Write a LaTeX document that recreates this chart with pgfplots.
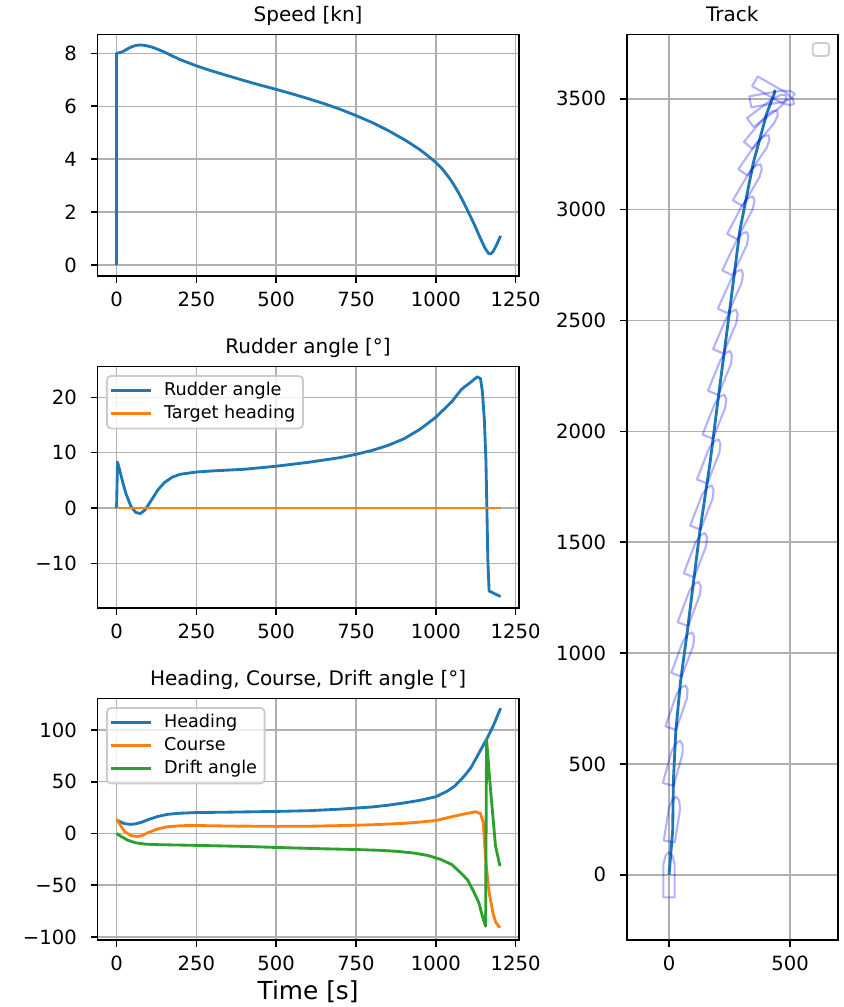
\documentclass[border=0pt]{standalone}
\usepackage{fontspec}
\setmainfont{DejaVu Sans}
\usepackage{pgfplots}
\pgfplotsset{compat=1.18}
\usepackage{pgfplotstable}

\definecolor{tabblue}{HTML}{1F77B4}
\definecolor{taborange}{HTML}{FF7F0E}
\definecolor{tabgreen}{HTML}{2CA02C}
\definecolor{gridgray}{HTML}{B0B0B0}
\definecolor{legframe}{HTML}{CCCCCC}

% ship outline, bow along +y, turned by the heading of each point
\pgfdeclareplotmark{ship}{%
  \pgftransformrotate{-\hdg}%
  \pgfpathmoveto{\pgfqpoint{-2.8pt}{-11.3pt}}%
  \pgfpathlineto{\pgfqpoint{2.8pt}{-11.3pt}}%
  \pgfpathlineto{\pgfqpoint{2.8pt}{5.4pt}}%
  \pgfpathlineto{\pgfqpoint{1.7pt}{9.6pt}}%
  \pgfpathlineto{\pgfqpoint{0pt}{11.3pt}}%
  \pgfpathlineto{\pgfqpoint{-1.7pt}{9.6pt}}%
  \pgfpathlineto{\pgfqpoint{-2.8pt}{5.4pt}}%
  \pgfpathclose
  \pgfusepathqstroke}

\pgfplotsset{
  mpl/.style={
    scale only axis, anchor=south west,
    width=210.7pt, height=120.75pt,
    grid=major, major grid style={gridgray, line width=0.76pt},
    axis line style={line width=0.8pt},
    tick pos=left, tick align=outside, major tick length=3.3pt,
    tick style={black, line width=0.8pt},
    tick label style={font=\fontsize{9.8}{11}\selectfont},
    xticklabel style={inner sep=0pt, anchor=north, yshift=-4.3pt},
    yticklabel style={inner sep=0pt, anchor=east, xshift=-6.8pt},
    every axis title/.style={font=\fontsize{10}{12}\selectfont,
      at={(0.5,1)}, anchor=base, yshift=6.6pt},
    legend cell align=left,
    legend image code/.code={\draw[##1, line width=1.42pt] (0pt,0pt) -- (20pt,0pt);},
    legend style={at={(0,1)}, anchor=north west, xshift=4.3pt, yshift=-4.3pt,
      draw=legframe, line width=0.9pt, rounded corners=2pt,
      fill=white, fill opacity=0.8, text opacity=1,
      font=\fontsize{8.8}{10}\selectfont,
      inner xsep=1.4pt, inner ysep=1.6pt,
      nodes={inner xsep=2.4pt, inner ysep=1.25pt, text height=6.8pt, text depth=2.2pt},
      /tikz/every odd column/.append style={column sep=3.4pt}},
    every axis plot/.append style={line width=1.42pt, line join=round},
  },
}

\begin{document}
\begin{tikzpicture}
\path[use as bounding box] (0,0) rectangle (421.5pt,503.5pt);

% Speed
\begin{axis}[mpl, at={(48.7pt,365.5pt)},
  xmin=-60, xmax=1260, ymin=-0.415, ymax=8.715,
  xtick={0,250,500,750,1000,1250}, xticklabels={0,250,500,750,1000,1250},
  ytick={0,2,4,6,8}, yticklabels={0,2,4,6,8},
  title={Speed [kn]}]
\addplot[tabblue] coordinates {
 (0,0) (0,8.0) (10,8.03) (20,8.07) (30,8.14) (45,8.24) (60,8.3) (75,8.32)
 (90,8.3) (110,8.24) (130,8.15) (150,8.05) (175,7.9) (200,7.76) (250,7.53)
 (300,7.33) (350,7.15) (400,6.97) (450,6.8) (500,6.64) (550,6.47) (600,6.29)
 (650,6.1) (700,5.89) (750,5.65) (800,5.39) (850,5.09) (900,4.75) (925,4.56)
 (950,4.36) (975,4.13) (1000,3.88) (1020,3.64) (1040,3.33) (1055,3.06)
 (1070,2.76) (1085,2.42) (1100,2.05) (1120,1.55) (1140,1.0)
 (1155,0.62) (1165,0.44) (1172,0.42) (1180,0.52) (1190,0.75) (1203,1.1)
};
\end{axis}

% Rudder angle
\begin{axis}[mpl, at={(48.7pt,199.5pt)},
  xmin=-60, xmax=1260, ymin=-18.07, ymax=25.57,
  xtick={0,250,500,750,1000,1250}, xticklabels={0,250,500,750,1000,1250},
  ytick={-10,0,10,20}, yticklabels={−10,0,10,20},
  title={Rudder angle [°]}]
\addplot[tabblue] coordinates {
 (0,0) (3,8.3) (10,6.8) (20,4.5) (30,2.5) (45,0.3) (60,-0.8) (75,-1.0)
 (90,-0.3) (110,1.5) (130,3.3) (150,4.6) (175,5.6) (200,6.1) (250,6.5)
 (300,6.7) (400,7.0) (500,7.55) (600,8.25) (700,9.1) (750,9.7) (800,10.4)
 (850,11.3) (900,12.5) (950,14.2) (1000,16.4) (1050,19.2) (1080,21.4)
 (1090,21.9) (1100,22.3) (1115,23.0) (1130,23.7) (1140,23.4) (1146,21.0)
 (1152,16) (1157,8.7) (1160,0) (1163,-9.4) (1167,-15.0) (1203,-16.0)
};
\addlegendentry{Rudder angle}
\addplot[taborange] coordinates {(0,0) (1203,0)};
\addlegendentry{Target heading}
\end{axis}

% Heading, course, drift
\begin{axis}[mpl, at={(48.7pt,33.5pt)},
  xmin=-60, xmax=1260, ymin=-102.9, ymax=130.4,
  xtick={0,250,500,750,1000,1250}, xticklabels={0,250,500,750,1000,1250},
  ytick={-100,-50,0,50,100}, yticklabels={−100,−50,0,50,100},
  title={Heading, Course, Drift angle [°]},
  xlabel={Time [s]},
  every axis x label/.style={at={(axis description cs:0.5,0)}, anchor=base,
    yshift=-29.5pt, font=\fontsize{12.4}{14}\selectfont}]
\addplot[tabblue] coordinates {
 (0,13) (10,11.5) (25,9.5) (45,8.8) (60,9.3) (80,11) (100,13.5) (130,16.5)
 (160,18.5) (200,19.6) (250,20.2) (350,20.6) (500,21.3) (600,22.0)
 (700,23.5) (800,25.6) (850,27.3) (900,29.5) (950,32) (1000,35.5) (1036,40.9)
 (1060,46) (1088,55) (1110,63.5) (1130,74.7) (1150,86) (1160,91.5)
 (1180,104) (1203,121)
};
\addlegendentry{Heading}
\addplot[taborange] coordinates {
 (0,14) (10,9) (25,2) (45,-2) (65,-3) (80,-2) (100,1) (130,4.5) (160,6.5)
 (200,7.5) (250,7.7) (350,7.2) (500,6.9) (600,7.0) (700,7.6) (800,8.4)
 (900,9.8) (950,11) (1000,12.5) (1057,16.7) (1100,19.5) (1125,21) (1140,19.3)
 (1149,10.3) (1156,-25) (1167,-57) (1180,-78) (1188,-86) (1201,-91)
};
\addlegendentry{Course}
\addplot[tabgreen] coordinates {
 (0,0) (15,-3) (35,-6.5) (60,-9) (90,-10.3) (130,-10.8) (200,-11.2)
 (250,-11.5) (400,-12.5) (500,-13.5) (650,-14.8) (750,-15.5) (827,-16.3)
 (880,-17.3) (931,-18.9) (975,-21.2) (1015,-25) (1050,-30) (1078,-38)
 (1100,-45) (1120,-57) (1135,-67) (1146,-80) (1156,-89.6) (1159,91)
 (1168,55) (1177,23) (1187,-12) (1201,-31.6)
};
\addlegendentry{Drift angle}
\end{axis}

% Track
\begin{axis}[mpl, at={(313.35pt,33.5pt)}, width=105.5pt, height=452.75pt,
  xmin=-175, xmax=697, ymin=-294, ymax=3790,
  xtick={0,500}, xticklabels={0,500},
  ytick={0,500,1000,1500,2000,2500,3000,3500},
  yticklabels={0,500,1000,1500,2000,2500,3000,3500},
  title={Track}]
\addplot[blue, scatter, only marks, mark=ship,
  point meta=\thisrow{h},
  visualization depends on={value \thisrow{h}\as\hdg},
  scatter/@pre marker code/.code={\pgfscope},
  scatter/@post marker code/.code={\endpgfscope},
  mark options={line width=1.05pt, draw opacity=0.3, solid}]
  table {
x y h
0 0 0
15.7 251 9
21.6 506 15.5
37.5 758 19
63 998 20.2
90 1226 20.5
115.5 1446 20.8
142.5 1661 21
170.6 1869 21.2
194.2 2071 21.6
217.4 2268 22
239.7 2455 23
260.9 2636 24
281.1 2807 25.5
303.9 2969 27.5
331 3117 30.5
358.5 3252 34.5
387.3 3368 40
410.5 3454 53
427.8 3504 80
436 3528 120
};
\addplot[tabblue] coordinates {
 (0,0) (15,200) (18,425) (28,650) (48,876) (76,1102) (102,1330) (128,1554)
 (169,1855) (204,2156) (240,2457) (293,2909) (348,3210) (404,3435)
 (438,3533) (432,3537)
};
\draw[legframe, line width=0.9pt, rounded corners=1.5pt, fill=white]
  ([xshift=-12.5pt,yshift=-4.25pt]rel axis cs:1,1) rectangle
  ([xshift=-4.35pt,yshift=-10.75pt]rel axis cs:1,1);
\end{axis}
\end{tikzpicture}
\end{document}
